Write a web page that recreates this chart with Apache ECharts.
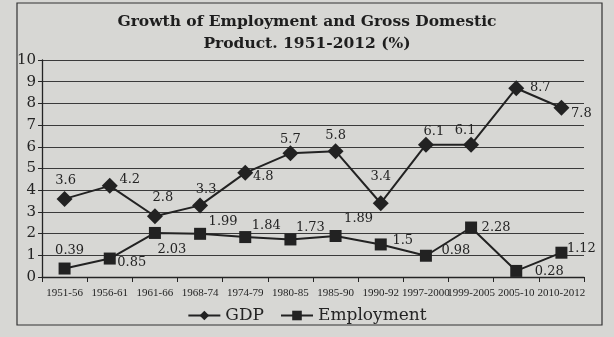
<!DOCTYPE html>
<html>
<head>
<meta charset="utf-8">
<style>
  html, body { margin: 0; padding: 0; background: #d7d7d4; }
  #chart { width: 614px; height: 337px; }
</style>
<script src="https://cdn.jsdelivr.net/npm/echarts@6/dist/echarts.min.js"></script>
</head>
<body>
<div id="chart"></div>
<script>
// Plan periods on the x axis
const periods = ['1951-56', '1956-61', '1961-66', '1968-74', '1974-79', '1980-85',
  '1985-90', '1990-92', '1997-2000', '1999-2005', '2005-10', '2010-2012'];

// Growth rates (%)
const gdp = [3.6, 4.2, 2.8, 3.3, 4.8, 5.7, 5.8, 3.4, 6.1, 6.1, 8.7, 7.8];
const employment = [0.39, 0.85, 2.03, 1.99, 1.84, 1.73, 1.89, 1.5, 0.98, 2.28, 0.28, 1.12];

// Y axis ticks
const yTicks = [0, 1, 2, 3, 4, 5, 6, 7, 8, 9, 10];

// Where each value label sits relative to its marker: [dx, dy]
const gdpLabelOffsets = [[1, -18], [20, -6], [8, -19], [6, -16], [18, 4], [0, -14],
  [0, -16], [0, -27], [8, -13], [-6, -14], [24, -1], [20, 6]];
const empLabelOffsets = [[5, -18], [22, 4], [17, 17], [23, -12], [21, -11], [20, -12],
  [23, -17], [22, -4], [30, -5], [25, 0], [33, 1], [20, -4]];

const serif = '"DejaVu Serif", "Liberation Serif", serif';
const ink = '#242424';

function withLabels(values, offsets) {
  return values.map((v, i) => ({
    value: v,
    label: { offset: offsets[i] }
  }));
}

const chart = echarts.init(document.getElementById('chart'), null, { renderer: 'canvas' });

chart.setOption({
  backgroundColor: '#d7d7d4',
  animation: false,
  title: {
    text: 'Growth of Employment and Gross Domestic\nProduct. 1951-2012 (%)',
    left: 'center',
    top: 6,
    textStyle: {
      fontFamily: serif,
      fontWeight: 'bold',
      fontSize: 15.5,
      lineHeight: 22,
      color: '#1e1e1e'
    }
  },
  graphic: [{
    type: 'rect',
    shape: { x: 17, y: 3, width: 585, height: 322 },
    style: { fill: 'none', stroke: '#333', lineWidth: 1.2 },
    silent: true,
    z: -1
  }],
  grid: { left: 42, right: 30, top: 60, bottom: 60 },
  legend: {
    bottom: 8,
    left: 'center',
    itemWidth: 32,
    itemHeight: 12,
    itemGap: 16,
    textStyle: { fontFamily: serif, fontSize: 17, color: ink },
    data: ['GDP', 'Employment']
  },
  xAxis: {
    type: 'category',
    data: periods,
    boundaryGap: true,
    axisLine: { lineStyle: { color: ink, width: 1.3 } },
    axisTick: { show: true, length: 5, lineStyle: { color: ink } },
    axisLabel: {
      interval: 0,
      fontFamily: '"Liberation Serif", serif',
      fontSize: 11,
      color: ink,
      margin: 11
    }
  },
  yAxis: {
    type: 'value',
    min: yTicks[0],
    max: yTicks[yTicks.length - 1],
    interval: 1,
    axisLine: { show: true, lineStyle: { color: ink, width: 1.3 } },
    axisTick: { show: true, length: 4, lineStyle: { color: ink } },
    axisLabel: { fontFamily: serif, fontSize: 15, color: ink, margin: 6 },
    splitLine: { lineStyle: { color: '#3a3a3a', width: 1 } }
  },
  series: [
    {
      name: 'GDP',
      type: 'line',
      data: withLabels(gdp, gdpLabelOffsets),
      symbol: 'diamond',
      symbolSize: 16,
      itemStyle: { color: '#222' },
      lineStyle: { color: '#222', width: 2 },
      label: {
        show: true,
        position: 'inside',
        fontFamily: serif,
        fontSize: 13,
        color: ink
      },
      z: 3
    },
    {
      name: 'Employment',
      type: 'line',
      data: withLabels(employment, empLabelOffsets),
      symbol: 'rect',
      symbolSize: 12,
      itemStyle: { color: '#222' },
      lineStyle: { color: '#222', width: 2 },
      label: {
        show: true,
        position: 'inside',
        fontFamily: serif,
        fontSize: 13,
        color: ink
      },
      z: 3
    }
  ]
});
</script>
</body>
</html>
